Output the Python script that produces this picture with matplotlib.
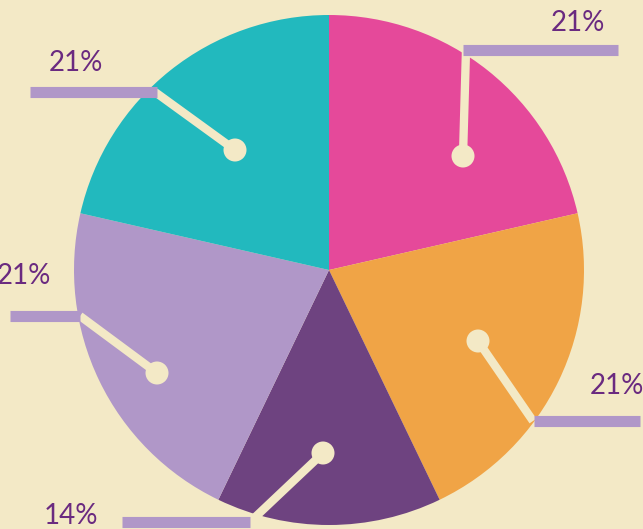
import matplotlib
matplotlib.use("Agg")
import matplotlib.pyplot as plt
from matplotlib.patches import Circle

# Data
categories = ["Pink", "Orange", "Dark purple", "Lavender", "Teal"]
values = [21, 21, 14, 21, 21]
labels = ["21%", "21%", "14%", "21%", "21%"]
colors = ["#e5499a", "#f0a446", "#6e4380", "#b097c8", "#22b9be"]

BG = "#f3e9c6"
BAR = "#b097c8"
TXT = "#6a2a80"

W, H = 643, 529
CX, CY, R = 329, 270, 255

def px(x, y):
    return ((x - CX) / R, (CY - y) / R)

fig = plt.figure(figsize=(W / 100, H / 100), dpi=100, facecolor=BG)
ax = fig.add_axes([0, 0, 1, 1])
ax.set_facecolor(BG)

ax.pie(values, colors=colors, startangle=90, counterclock=False, radius=1,
       center=(0, 0), wedgeprops=dict(linewidth=0), frame=True)
ax.set_xlim(-CX / R, (W - CX) / R)
ax.set_ylim(-(H - CY) / R, CY / R)
ax.set_aspect("auto")
ax.axis("off")

# Callout layout (pixel positions): dot, elbow, bar x-range, label centre
callouts = [
    dict(dot=(463, 156), elbow=(466, 50), bar=(463, 618), label=(578, 23)),
    dict(dot=(478, 341), elbow=(533, 421), bar=(534, 640), label=(617, 386)),
    dict(dot=(323, 453), elbow=(250, 522), bar=(122, 250), label=(71, 516)),
    dict(dot=(157, 373), elbow=(80, 316), bar=(10, 80), label=(24, 276)),
    dict(dot=(235, 150), elbow=(155, 92), bar=(30, 157), label=(76, 63)),
]

for c, lab in zip(callouts, labels):
    d = px(*c["dot"])
    e = px(*c["elbow"])
    ax.plot([d[0], e[0]], [d[1], e[1]], color=BG, lw=6.0, solid_capstyle="butt", zorder=3)
    ax.add_patch(Circle(d, 11.5 / R, color=BG, zorder=4, lw=0))
    b0 = px(c["bar"][0], c["elbow"][1])
    b1 = px(c["bar"][1], c["elbow"][1])
    ax.plot([b0[0], b1[0]], [b0[1], b1[1]], color=BAR, lw=8.0, solid_capstyle="butt", zorder=5)
    lp = px(*c["label"])
    ax.text(lp[0], lp[1], lab, color=TXT, fontsize=20, ha="center", va="center",
            family=["Lato", "DejaVu Sans"], fontweight="normal", zorder=6)

fig.savefig("out.png", dpi=100, facecolor=BG)
